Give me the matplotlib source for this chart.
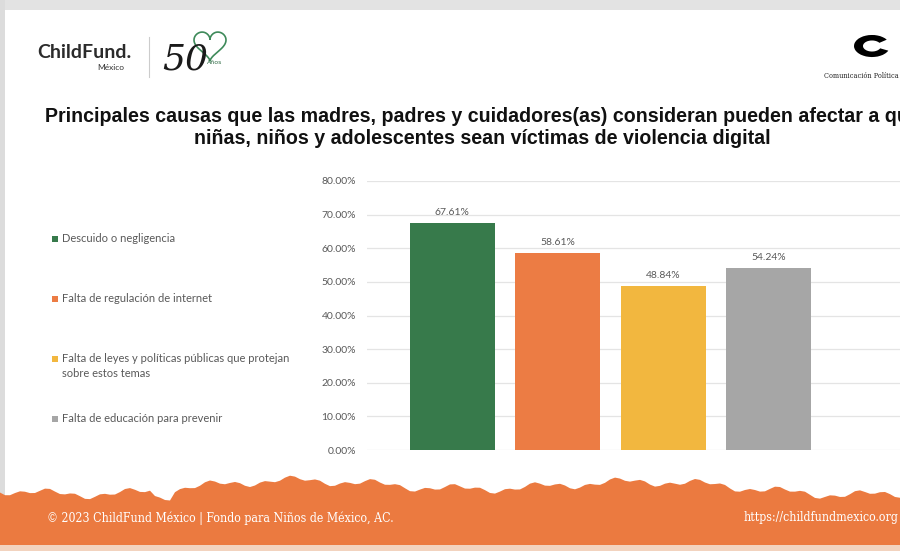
import numpy as np
import matplotlib
matplotlib.use("Agg")
import matplotlib.pyplot as plt
from matplotlib.patches import Rectangle, Polygon, Wedge

# ---------------- data ----------------
categories = [
    "Descuido o negligencia",
    "Falta de regulación de internet",
    "Falta de leyes y políticas públicas que protejan\nsobre estos temas",
    "Falta de educación para prevenir",
]
values = [67.61, 58.61, 48.84, 54.24]
colors = ["#377A4B", "#EC7C44", "#F2B73F", "#A6A6A6"]
yticks = [0, 10, 20, 30, 40, 50, 60, 70, 80]
title_lines = [
    "Principales causas que las madres, padres y cuidadores(as) consideran pueden afectar a que",
    "niñas, niños y adolescentes sean víctimas de violencia digital",
]
footer_left = "© 2023 ChildFund México | Fondo para Niños de México, AC."
footer_right = "https://childfundmexico.org"

W, H = 900, 551
fig = plt.figure(figsize=(W / 100, H / 100), dpi=100)
fig.patch.set_facecolor("white")

def fx(px):
    return px / W

def fy(py):
    return 1 - py / H

# background frame (screenshot border)
fig.patches.append(Rectangle((0, fy(10)), 1, 10 / H, transform=fig.transFigure,
                             facecolor="#E3E3E3", edgecolor="none", zorder=0))
fig.patches.append(Rectangle((0, 0), fx(5), 1, transform=fig.transFigure,
                             facecolor="#DCDCDC", edgecolor="none", zorder=0))

# ---------------- chart ----------------
x0_px, x1_px = 367, 900
ax = fig.add_axes([fx(x0_px), fy(450), fx(x1_px - x0_px), (450 - 181) / H])
pitch = 105.5
first_center = 452
xs = np.arange(len(values))
ax.bar(xs, values, width=85 / pitch, color=colors, zorder=3)
ax.set_xlim(-(first_center - x0_px) / pitch, (x1_px - first_center) / pitch)
ax.set_ylim(0, 80)
ax.set_yticks(yticks)
ax.set_yticklabels([f"{v:.2f}%" for v in yticks], fontsize=7.5, color="#595959",
                   family=["Lato", "DejaVu Sans"])
ax.tick_params(axis="y", length=0, pad=8)
ax.set_xticks([])
ax.grid(axis="y", color="#E4E4E4", linewidth=0.9, zorder=0)
for s in ax.spines.values():
    s.set_visible(False)
ax.set_facecolor("none")
for x, v in zip(xs, values):
    ax.annotate(f"{v:.2f}%", (x, v), xytext=(0, 4), textcoords="offset points",
                ha="center", va="bottom", fontsize=7.5, color="#595959",
                family=["Lato", "DejaVu Sans"])

# ---------------- legend (manual, left side) ----------------
leg_y = [239, 299, 359, 419]
for cat, col, y in zip(categories, colors, leg_y):
    fig.patches.append(Rectangle((fx(52), fy(y + 3)), 6 / W, 6 / H,
                                 transform=fig.transFigure, facecolor=col,
                                 edgecolor="none"))
    fig.text(fx(62), fy(y - 6), cat, ha="left", va="top", fontsize=8,
             color="#595959", family=["Lato", "DejaVu Sans"], linespacing=1.45)

# ---------------- title ----------------
for line, ypx in zip(title_lines, [116, 139]):
    fig.text(fx(482), fy(ypx), line, ha="center", va="center",
             fontsize=14.1, fontweight="bold", color="#111111",
             family=["Liberation Sans", "DejaVu Sans"])

# ---------------- logos ----------------
fig.text(fx(37), fy(52), "ChildFund.", ha="left", va="center", fontsize=14,
         fontweight="bold", color="#2B2B2B", family=["Lato", "DejaVu Sans"])
fig.text(fx(97), fy(67), "México", ha="left", va="center", fontsize=6,
         color="#333333", family=["Lato", "DejaVu Sans"])
fig.add_artist(plt.Line2D([fx(149), fx(149)], [fy(37), fy(77)],
                          transform=fig.transFigure, color="#CCCCCC", lw=0.8))
fig.text(fx(162), fy(60), "50", ha="left", va="center", fontsize=26,
         style="italic", color="#1A1A1A", family=["DejaVu Serif"])
fig.text(fx(207), fy(63), "Años", ha="left", va="center", fontsize=4.5,
         color="#2F6B45", family=["DejaVu Sans"])
hx = np.linspace(0, 2 * np.pi, 200)
heart_x = 16 * np.sin(hx) ** 3
heart_y = 13 * np.cos(hx) - 5 * np.cos(2 * hx) - 2 * np.cos(3 * hx) - np.cos(4 * hx)
fig.add_artist(plt.Line2D(fx(210 + heart_x * 1.0), fy(44 - heart_y * 1.0),
                          transform=fig.transFigure, color="#3E8A5A", lw=1.2))

# right logo (Comunicación Política)
fig.patches.append(Wedge((fx(872), fy(46)), 18 / W, 35, 335, width=9 / W,
                         transform=fig.transFigure, facecolor="black",
                         edgecolor="none"))
fig.text(fx(899), fy(76), "Comunicación Política", ha="right", va="center",
         fontsize=4.7, color="#222222", family=["DejaVu Serif"])

# ---------------- footer ----------------
fxs = np.linspace(0, W, 181)
edge = (487 + 5 * np.sin(fxs / 60.0) + 3 * np.sin(fxs / 13.0 + 1.0)
        + 2 * np.sin(fxs / 4.3) + 3 * np.cos(fxs / 140.0))
edge[(fxs > 150) & (fxs < 175)] += 6
pts = [(fx(0), fy(545))] + [(fx(a), fy(b)) for a, b in zip(fxs, edge)] + [(fx(W), fy(545))]
fig.patches.append(Polygon(pts, closed=True, transform=fig.transFigure,
                           facecolor="#EB7A40", edgecolor="none", zorder=1))
fig.patches.append(Rectangle((0, 0), 1, 6 / H, transform=fig.transFigure,
                             facecolor="#F2D3BF", edgecolor="none", zorder=1))
fig.text(fx(47), fy(518), footer_left, ha="left", va="center", fontsize=8.8,
         color="white", family=["DejaVu Serif"], fontstretch="condensed", zorder=2)
fig.text(fx(898), fy(518), footer_right, ha="right", va="center", fontsize=8.8,
         color="white", family=["DejaVu Serif"], fontstretch="condensed", zorder=2)

fig.savefig("out.png", dpi=100, facecolor=fig.get_facecolor())
